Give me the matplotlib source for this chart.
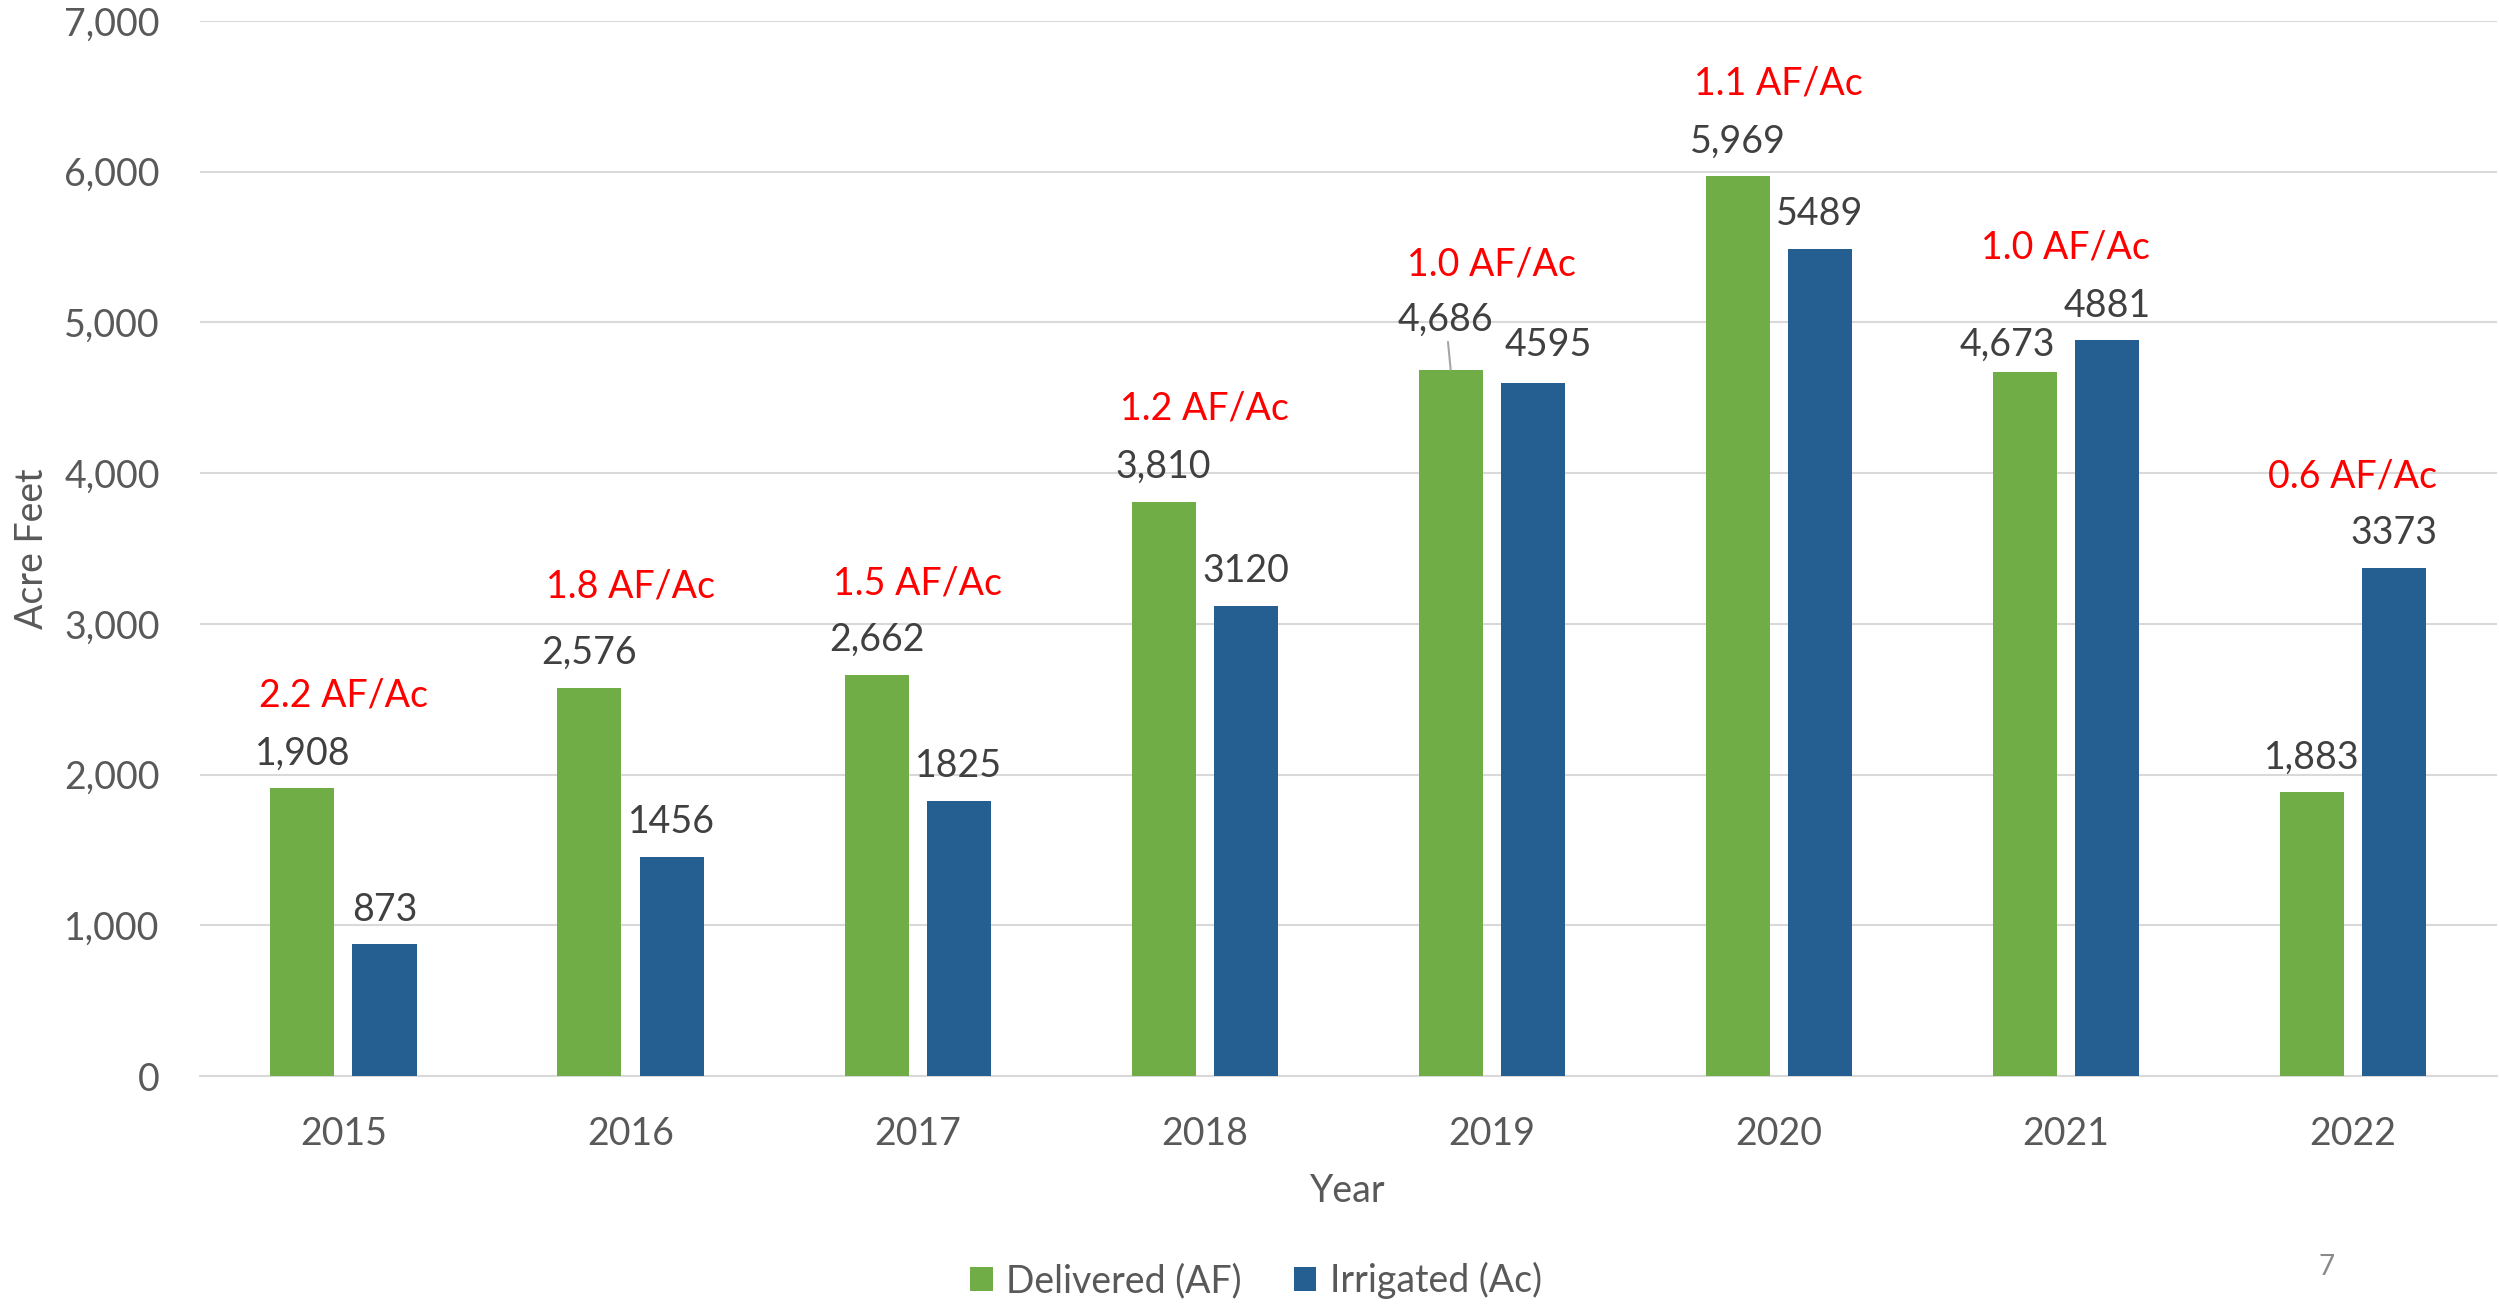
import matplotlib
matplotlib.use("Agg")
import matplotlib.pyplot as plt
import numpy as np

plt.rcParams['font.family'] = ['Lato', 'DejaVu Sans']

years = ["2015", "2016", "2017", "2018", "2019", "2020", "2021", "2022"]
delivered = [1908, 2576, 2662, 3810, 4686, 5969, 4673, 1883]
irrigated = [873, 1456, 1825, 3120, 4595, 5489, 4881, 3373]
ratios = [2.2, 1.8, 1.5, 1.2, 1.0, 1.1, 1.0, 0.6]
yticks = [0, 1000, 2000, 3000, 4000, 5000, 6000, 7000]

# layout: heights (data units) of the red ratio labels
ratio_label_y = [2527, 3246, 3267, 4431, 5382, 6588, 5499, 3976]
# layout: per-label offsets (points) for value labels (dx, dy)
deliv_off = [(0, 25), (0, 25), (0, 25), (0, 25), (-3.5, 36), (0, 25), (-12.5, 19.5), (0, 25)]
irrig_off = [(0, 25), (0, 25), (0, 25), (0, 25), (11.5, 27.5), (0, 25), (0, 25), (0, 25)]

GREEN = "#70AD47"
BLUE = "#255E91"
LABEL = "#404040"
TICK = "#595959"
GRID = "#D9D9D9"

fig = plt.figure(figsize=(24.99, 13.04), dpi=100)
ax = fig.add_axes([0.080, 0.1748, 0.919, 0.8091])

x = np.arange(len(years))
w = 0.223
off = 0.143
b1 = ax.bar(x - off, delivered, w, color=GREEN, label="Delivered (AF)", zorder=3)
b2 = ax.bar(x + off, irrigated, w, color=BLUE, label="Irrigated (Ac)", zorder=3)

ax.set_xlim(-0.5, len(years) - 0.5)
ax.set_ylim(0, 7000)
ax.set_yticks(yticks)
ax.set_yticklabels([f"{v:,}" for v in yticks])
ax.set_xticks(x)
ax.set_xticklabels(years)
ax.tick_params(axis='both', length=0, labelsize=27, colors=TICK)
ax.tick_params(axis='y', pad=29)
ax.tick_params(axis='x', pad=29)
ax.grid(axis='y', color=GRID, linewidth=1.5, zorder=0)
ax.set_axisbelow(True)
for s in ["top", "right", "left"]:
    ax.spines[s].set_visible(False)
ax.spines["bottom"].set_color(GRID)
ax.spines["bottom"].set_linewidth(1.5)
ax.spines["bottom"].set_zorder(1)

ax.set_ylabel("Acre Feet", fontsize=27, color=TICK, va='center')
ax.yaxis.set_label_coords(-0.073, 0.5)
ax.set_xlabel("Year", fontsize=27, color=TICK, va='center')
ax.xaxis.set_label_coords(0.5, -0.109)

for i in range(len(years)):
    dx, dy = deliv_off[i]
    kw = {}
    if i == 4:
        kw = dict(arrowprops=dict(arrowstyle='-', color='#A6A6A6', lw=1.5,
                                  shrinkA=1, shrinkB=0))
    ax.annotate(f"{delivered[i]:,}", xy=(x[i] - off, delivered[i]),
                xytext=(dx, dy), textcoords='offset points',
                ha='center', va='center', fontsize=27, color=LABEL, **kw)
    dx, dy = irrig_off[i]
    ax.annotate(f"{irrigated[i]}", xy=(x[i] + off, irrigated[i]),
                xytext=(dx, dy), textcoords='offset points',
                ha='center', va='center', fontsize=27, color=LABEL)
    ax.text(x[i], ratio_label_y[i], f"{ratios[i]:.1f} AF/Ac", ha='center', va='center',
            fontsize=27, color="#FF0000")

fig.legend(handles=[b1, b2], labels=["Delivered (AF)", "Irrigated (Ac)"],
           loc='center', bbox_to_anchor=(0.5026, 0.018), ncol=2, frameon=False,
           fontsize=27, labelcolor=TICK, handlelength=0.6, handleheight=0.6,
           handletextpad=0.35, columnspacing=1.4)

fig.text(0.931, 0.0284, "7", fontsize=20, color="#898989", ha='center', va='center')

fig.savefig("out.png", dpi=100)
